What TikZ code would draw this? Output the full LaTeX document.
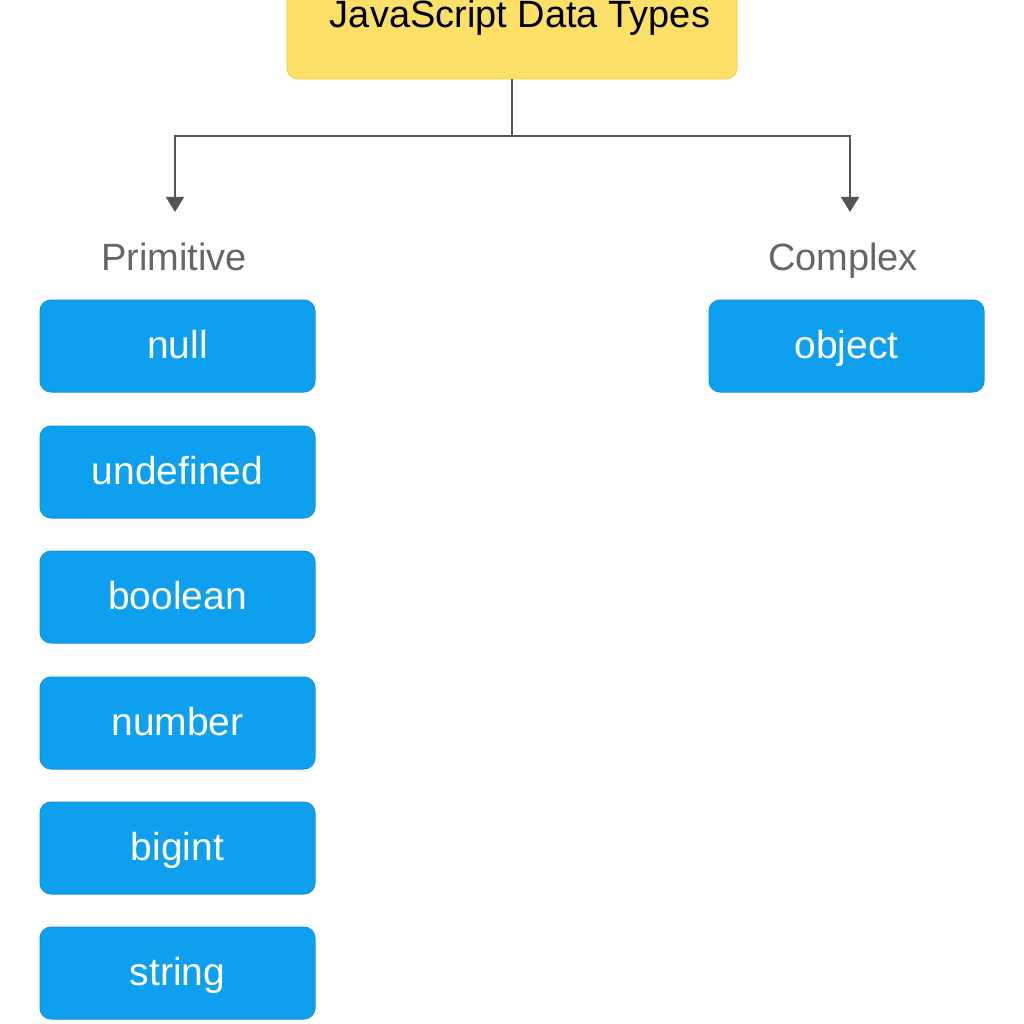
\documentclass[tikz,border=0pt]{standalone}
\usepackage{fontspec}
\setmainfont{Liberation Sans}
\usetikzlibrary{arrows.meta,positioning}
\definecolor{ybox}{HTML}{FDE068}
\definecolor{yline}{HTML}{F3D255}
\definecolor{bbox}{HTML}{0EA0EE}
\definecolor{bline}{HTML}{1690E2}
\definecolor{arr}{HTML}{555555}
\definecolor{lbl}{HTML}{666666}
\tikzset{
  typebox/.style={draw=bline, line width=1pt, fill=bbox, rounded corners=11pt,
    minimum width=275pt, minimum height=92pt, inner sep=0pt, text=white,
    text height=31pt, text depth=7pt,
    font=\fontsize{39}{46}\selectfont},
  grouplbl/.style={text=lbl, inner sep=0pt, anchor=base, font=\fontsize{38}{45}\selectfont},
  conn/.style={draw=arr, line width=1.6pt},
  arrowconn/.style={conn, -{Triangle[width=18pt,length=15pt]}}
}
\begin{document}
\begin{tikzpicture}[x=1pt,y=-1pt]
\useasboundingbox (0,0) rectangle (1024,1024);
\fill[white] (0,0) rectangle (1024,1024);
\begin{scope}
\clip (0,0) rectangle (1024,1024);
\node[draw=yline, line width=1pt, fill=ybox, rounded corners=11pt,
  minimum width=450pt, minimum height=120pt, inner sep=0pt] (top) at (512,19) {};
\end{scope}
\node[anchor=base, inner sep=0pt, font=\fontsize{38}{45}\selectfont] (title) at (520,28) {JavaScript Data Types};
\coordinate (top bottom) at (512,79);
\coordinate (split) at (512,136);
\coordinate (ltip) at (175,212);
\coordinate (rtip) at (850,212);
\draw[conn] (top bottom) -- (split);
\draw[arrowconn] (split) -| (ltip);
\draw[arrowconn] (split) -| (rtip);
\node[grouplbl] (prim) at (174,270) {Primitive};
\node[grouplbl] (comp) at (843,270) {Complex};
\node[typebox] (null) at (177.5,346) {null};
\node[typebox] (undef) at (177.5,472) {undefined};
\node[typebox] (bool) at (177.5,597) {boolean};
\node[typebox] (num) at (177.5,723) {number};
\node[typebox] (big) at (177.5,848) {bigint};
\node[typebox] (str) at (177.5,973) {string};
\node[typebox] (obj) at (846.5,346) {object};
\end{tikzpicture}
\end{document}
